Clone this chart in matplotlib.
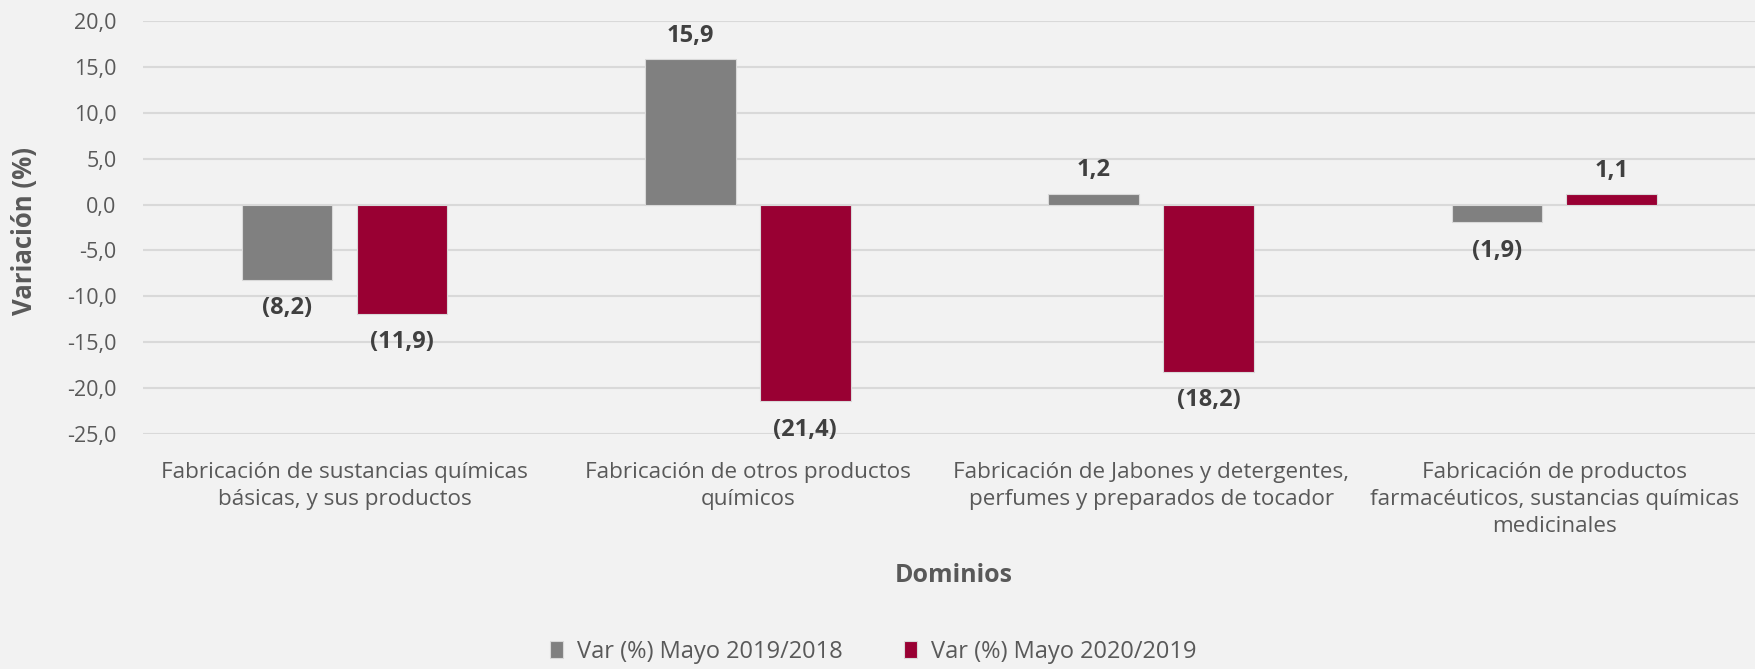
import matplotlib.pyplot as plt
import numpy as np

plt.rcParams['font.family'] = ['Open Sans', 'DejaVu Sans']

categorias = [
    "Fabricación de sustancias químicas\nbásicas, y sus productos",
    "Fabricación de otros productos\nquímicos",
    "Fabricación de Jabones y detergentes,\nperfumes y preparados de tocador",
    "Fabricación de productos\nfarmacéuticos, sustancias químicas\nmedicinales",
]
var_2019 = [-8.2, 15.9, 1.2, -1.9]
var_2020 = [-11.9, -21.4, -18.2, 1.1]
series = ["Var (%) Mayo 2019/2018", "Var (%) Mayo 2020/2019"]
y_ticks = [20, 15, 10, 5, 0, -5, -10, -15, -20, -25]

BG = '#f2f2f2'
GRIS = '#808080'
ROJO = '#990033'
TXT = '#595959'


def fmt(v):
    # negatives shown in parentheses, comma decimal
    s = f"{abs(v):.1f}".replace('.', ',')
    return f"({s})" if v < 0 else s


fig = plt.figure(figsize=(17.56, 6.69), dpi=100, facecolor=BG)
ax = fig.add_axes([0.0814, 0.3513, 0.9186, 0.6173])
ax.set_facecolor(BG)

x = np.arange(len(categorias))
w = 0.225
off = 0.1425
b1 = ax.bar(x - off, var_2019, w, color=GRIS, edgecolor='#d9d9d9', linewidth=0.8,
            label=series[0], zorder=3)
b2 = ax.bar(x + off, var_2020, w, color=ROJO, edgecolor='#d9d9d9', linewidth=0.8,
            label=series[1], zorder=3)

for bars, vals in ((b1, var_2019), (b2, var_2020)):
    for r, v in zip(bars, vals):
        cx = r.get_x() + r.get_width() / 2
        if v < 0:
            ax.annotate(fmt(v), (cx, v), xytext=(0, -12), textcoords='offset points',
                        ha='center', va='top', fontsize=17, fontweight='bold',
                        color='#404040')
        else:
            ax.annotate(fmt(v), (cx, v), xytext=(0, 8), textcoords='offset points',
                        ha='center', va='bottom', fontsize=17, fontweight='bold',
                        color='#404040')

ax.set_xlim(-0.5, len(categorias) - 0.5)
ax.set_ylim(-25, 20)
ax.set_yticks(y_ticks)
ax.set_yticklabels([f"{t:.1f}".replace('.', ',') for t in y_ticks])
ax.yaxis.grid(True, color='#d9d9d9', linewidth=1.5, zorder=0)
ax.set_axisbelow(True)
for s in ax.spines.values():
    s.set_visible(False)
ax.tick_params(axis='y', length=0, labelsize=15.5, labelcolor=TXT, pad=19)
ax.tick_params(axis='x', length=0, labelsize=16.2, labelcolor=TXT, pad=20)
ax.set_xticks(x)
ax.set_xticklabels(categorias, linespacing=1.38)

fig.text(25 / 1756, 1 - 231 / 669, "Variación (%)", rotation=90,
         ha='center', va='center', fontsize=18.5, fontweight='bold', color=TXT)
fig.text(954 / 1756, 1 - 575 / 669, "Dominios", ha='center', va='center',
         fontsize=18, fontweight='bold', color=TXT)

fig.legend(handles=[b1, b2], labels=series, loc='center',
           bbox_to_anchor=(873 / 1756, 1 - 652 / 669), ncol=2, frameon=False,
           fontsize=17, labelcolor=TXT, handlelength=0.55, handleheight=0.7,
           columnspacing=2.6, handletextpad=0.6)

fig.savefig('out.png', dpi=100, facecolor=BG)
